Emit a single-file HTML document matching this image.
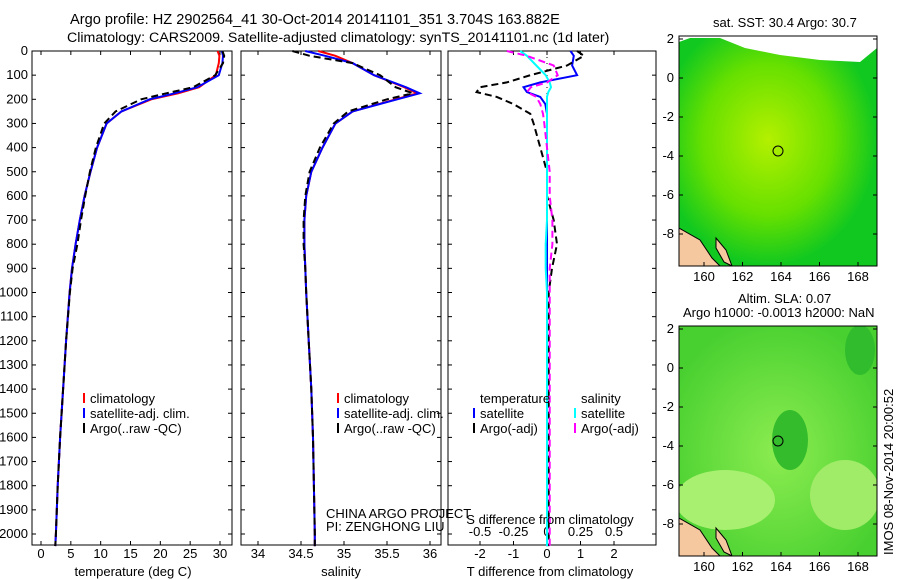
<!DOCTYPE html>
<html><head><meta charset="utf-8"><style>
body{margin:0;background:#fff;}
svg{display:block;font-family:"Liberation Sans",sans-serif;}
text{font-size:13px;fill:#000;}
</style></head><body>
<svg id="fig" width="900" height="580" viewBox="0 0 900 580" xmlns="http://www.w3.org/2000/svg">
<defs>
<radialGradient id="g1" cx="45%" cy="45%" r="55%"><stop offset="0" stop-color="#b4f000"/><stop offset="0.6" stop-color="#66e000"/><stop offset="1" stop-color="#10c820"/></radialGradient>
<radialGradient id="g2" cx="50%" cy="55%" r="60%"><stop offset="0" stop-color="#8cec50"/><stop offset="1" stop-color="#48d030"/></radialGradient>
<clipPath id="c1"><rect x="679" y="36" width="198" height="230"/></clipPath>
<clipPath id="c2"><rect x="679" y="326" width="198" height="230"/></clipPath>
</defs>
<text x="70" y="24" style="font-size:14.6px">Argo profile: HZ 2902564_41 30-Oct-2014 20141101_351 3.704S 163.882E</text>
<text x="67" y="42" style="font-size:14.2px">Climatology: CARS2009. Satellite-adjusted climatology: synTS_20141101.nc (1d later)</text>
<g id="plots"></g>
<g id="maps">
<text x="713" y="27">sat. SST: 30.4  Argo: 30.7</text>
<rect x="679" y="36" width="198" height="230" fill="url(#g1)"/>
<polygon points="679,36 679,42 690,38 720,38 745,48 780,55 820,60 860,62 877,48 877,36" fill="#fff"/>
<g clip-path="url(#c1)">
<polygon points="679,228 700,240 712,258 720,266 679,266" fill="#f5c8a0" stroke="#000"/>
<polygon points="716,238 726,250 732,266 724,262 716,248" fill="#f5c8a0" stroke="#000"/>
</g>
<rect x="679" y="36" width="198" height="230" fill="none" stroke="#000"/>
<circle cx="778" cy="151" r="5" fill="none" stroke="#000"/>
<text x="738" y="303">Altim. SLA: 0.07</text>
<text x="683" y="317">Argo h1000: -0.0013 h2000: NaN</text>
<rect x="679" y="326" width="198" height="230" fill="url(#g2)"/>
<g clip-path="url(#c2)">
<ellipse cx="725" cy="500" rx="50" ry="30" fill="#a8f070"/>
<ellipse cx="845" cy="495" rx="35" ry="35" fill="#a0ec68"/>
<ellipse cx="790" cy="440" rx="18" ry="30" fill="#34bc2c"/>
<ellipse cx="860" cy="350" rx="15" ry="25" fill="#30bc2c"/>
<polygon points="679,518 700,530 712,548 720,556 679,556" fill="#f5c8a0" stroke="#000"/>
<polygon points="716,528 726,540 732,556 724,552 716,538" fill="#f5c8a0" stroke="#000"/>
</g>
<rect x="679" y="326" width="198" height="230" fill="none" stroke="#000"/>
<circle cx="778" cy="441" r="5" fill="none" stroke="#000"/>
<text transform="translate(893,555) rotate(-90)">IMOS 08-Nov-2014 20:00:52</text>
</g>
</svg>
<script>
var depths=[0,20,50,100,150,175,200,250,300,400,500,600,700,800,900,1000,1200,1400,1600,1800,2000,2050];
var tClim=[29.6,29.9,29.8,29.3,26.5,23,18.5,13.5,11,9.4,8.3,7.3,6.5,5.8,5.2,4.8,4.2,3.7,3.2,2.8,2.5,2.4];
var tSat=[30.3,30.5,30.4,29.8,26.2,22.4,18.2,13.5,11,9.4,8.3,7.3,6.5,5.8,5.2,4.8,4.2,3.7,3.2,2.8,2.5,2.4];
var tArgo=[30.4,30.7,30.5,29.2,25.5,21,16.8,12.5,10.6,9.2,8.2,7.4,6.7,6.1,5.3,4.85,4.2,3.7,3.2,2.8,2.5,2.4];
var sClim=[34.7,34.9,35.1,35.35,35.7,35.85,35.6,35.1,34.9,34.75,34.62,34.56,34.54,34.54,34.55,34.56,34.59,34.62,34.64,34.65,34.66,34.66];
var sSat=[34.55,34.78,35.1,35.35,35.72,35.88,35.62,35.1,34.9,34.75,34.62,34.56,34.54,34.54,34.55,34.56,34.59,34.62,34.64,34.65,34.66,34.66];
var sArgo=[34.4,34.6,35.1,35.42,35.6,35.8,35.5,35.05,34.88,34.72,34.6,34.55,34.53,34.53,34.55,34.56,34.59,34.62,34.64,34.65,34.66,34.66];
var dDepths=[0,20,60,100,130,150,170,190,220,260,300,400,500,600,700,800,900,1000,1500,2050];
var dTSat=[0.7,0.8,0.75,0.9,-0.2,-0.7,-0.6,-0.2,-0.05,0,0,0,0,0,0,0,0,0,0,0];
var dTArgo=[0.9,1.1,0.6,-0.5,-1.2,-2.0,-2.1,-1.5,-1.0,-0.5,-0.4,-0.2,0,0,0.2,0.3,0.15,0.05,0.05,0.05];
var dSSat=[-0.2,-0.15,-0.08,-0.01,0.02,0.03,0.01,0,0,0,0,0,0,0,0,-0.01,-0.01,0,0,0];
var dSArgo=[-0.3,-0.15,0.05,0.08,0.0,-0.12,-0.15,-0.08,-0.05,-0.03,-0.02,0.0,0.02,0.02,0.04,0.04,0.02,0.02,0.02,0.02];
var yTicks=[0,100,200,300,400,500,600,700,800,900,1000,1100,1200,1300,1400,1500,1600,1700,1800,1900,2000];
var tTicks=[0,5,10,15,20,25,30];
var sTicks=[34,34.5,35,35.5,36];
var dTTicks=[-2,-1,0,1,2];
var dSTicks=[-0.5,-0.25,0,0.25,0.5];
var dSLabels=['-0.5','-0.25','0','0.25','0.5'];
var lonTicks=[160,162,164,166,168];
var latTicks=[2,0,-2,-4,-6,-8];

var NS='http://www.w3.org/2000/svg';
var root=document.getElementById('plots');
function el(tag,attrs,parent,txt){var e=document.createElementNS(NS,tag);for(var k in attrs)e.setAttribute(k,attrs[k]);if(txt!==undefined)e.textContent=txt;(parent||root).appendChild(e);return e;}
var Y0=51,Y1=545;
function yS(d){return Y0+d*(534-51)/2000;}
function xLin(a,pa,b,pb){return function(v){return pa+(v-a)*(pb-pa)/(b-a);};}
function line(xs,ds,xf,color,dash,w,name){
  var p=ds.map(function(d,i){return xf(xs[i]).toFixed(1)+','+yS(d).toFixed(1);}).join(' ');
  var e=el('polyline',{points:p,fill:'none',stroke:color,'stroke-width':w||2,'stroke-dasharray':dash||'none'});
  
  
}
function frame(x0,x1,name){
  var r=el('rect',{x:x0,y:Y0,width:x1-x0,height:Y1-Y0,fill:'none',stroke:'#000'});
  
  
}
function xticks(ticks,xf,labels,y,top){
  ticks.forEach(function(t,i){var x=xf(t);
    el('line',{x1:x,x2:x,y1:Y1,y2:Y1-4,stroke:'#000'});
    if(top)el('line',{x1:x,x2:x,y1:Y0,y2:Y0+4,stroke:'#000'});
    var tx=el('text',{x:x,y:y,'text-anchor':'middle'},root,labels?labels[i]:String(t));
    
    
  });
}
function yticks(x0,x1,labels){
  yTicks.forEach(function(d){var y=yS(d);
    el('line',{x1:x0,x2:x0+4,y1:y,y2:y,stroke:'#000'});
    el('line',{x1:x1,x2:x1-4,y1:y,y2:y,stroke:'#000'});
    if(labels){var t=el('text',{x:x0-4,y:y+4,'text-anchor':'end'},root,String(d));
      
      }
  });
}
function legend(x,y,items){
  items.forEach(function(it,i){var yy=y+i*15;
    if(it[0])el('line',{x1:x,x2:x,y1:yy-10,y2:yy,stroke:it[0],'stroke-width':2});
    var t=el('text',{x:x+6,y:yy},root,it[1]);
    
    
  });
}
var xT=xLin(0,41,30,220);
frame(32,232,'temperature-panel');yticks(32,232,true);xticks(tTicks,xT,null,558,true);
line(tClim,depths,xT,'#f00',null,2,'temperature-climatology');
line(tSat,depths,xT,'#00f',null,2,'temperature-satellite');
line(tArgo,depths,xT,'#000','7,4',2,'temperature-argo');
var a=el('text',{x:133,y:576,'text-anchor':'middle'},root,'temperature (deg C)');
legend(84,403,[['#f00','climatology'],['#00f','satellite-adj. clim.'],['#000','Argo(..raw -QC)']]);
var xS=xLin(34,258,36,430);
frame(241,441,'salinity-panel');yticks(241,441,false);xticks(sTicks,xS,null,558,true);
line(sClim,depths,xS,'#f00',null,2,'salinity-climatology');
line(sSat,depths,xS,'#00f',null,2,'salinity-satellite');
line(sArgo,depths,xS,'#000','7,4',2,'salinity-argo');
a=el('text',{x:341,y:576,'text-anchor':'middle'},root,'salinity');
legend(338,403,[['#f00','climatology'],['#00f','satellite-adj. clim.'],['#000','Argo(..raw -QC)']]);
a=el('text',{x:326,y:518},root,'CHINA ARGO PROJECT');
a=el('text',{x:326,y:531},root,'PI: ZENGHONG LIU');
var xD=xLin(-2,480,2,614);
var xDS=function(v){return xD(v*4);};
frame(448,656,'difference-panel');yticks(448,656,false);xticks(dTTicks,xD,null,558,true);
xticks(dSTicks,xDS,dSLabels,536,false);
el('line',{x1:xD(0),x2:xD(0),y1:Y0,y2:Y1,stroke:'#000','stroke-dasharray':'1,5'});
line(dTSat,dDepths,xD,'#00f',null,2,'t-diff-satellite');
line(dTArgo,dDepths,xD,'#000','7,4',2,'t-diff-argo');
line(dSSat,dDepths,xDS,'#0ff',null,2,'s-diff-satellite');
line(dSArgo,dDepths,xDS,'#f0f','7,4',2,'s-diff-argo');
a=el('text',{x:550,y:576,'text-anchor':'middle'},root,'T difference from climatology');
a=el('text',{x:550,y:524,'text-anchor':'middle'},root,'S difference from climatology');
legend(474,403,[[null,'temperature'],['#00f','satellite'],['#000','Argo(-adj)']]);
legend(575,403,[[null,'salinity'],['#0ff','satellite'],['#f0f','Argo(-adj)']]);
var mg=document.getElementById('maps');
var lonX=xLin(160,704,168,858);
[[36,266,78,234],[326,556,368,524]].forEach(function(m){
  var latY=xLin(0,m[2],-8,m[3]);
  lonTicks.forEach(function(l){var x=lonX(l);
    el('line',{x1:x,x2:x,y1:m[1],y2:m[1]-4,stroke:'#000'},mg);
    var t=el('text',{x:x,y:m[1]+15,'text-anchor':'middle'},mg,String(l));
    
    });
  latTicks.forEach(function(l){var y=latY(l);if(y<m[0]||y>m[1])return;
    el('line',{x1:679,x2:683,y1:y,y2:y,stroke:'#000'},mg);
    el('line',{x1:877,x2:873,y1:y,y2:y,stroke:'#000'},mg);
    var t=el('text',{x:674,y:y+4,'text-anchor':'end'},mg,String(l));
    
    });
});
</script>
</body></html>
